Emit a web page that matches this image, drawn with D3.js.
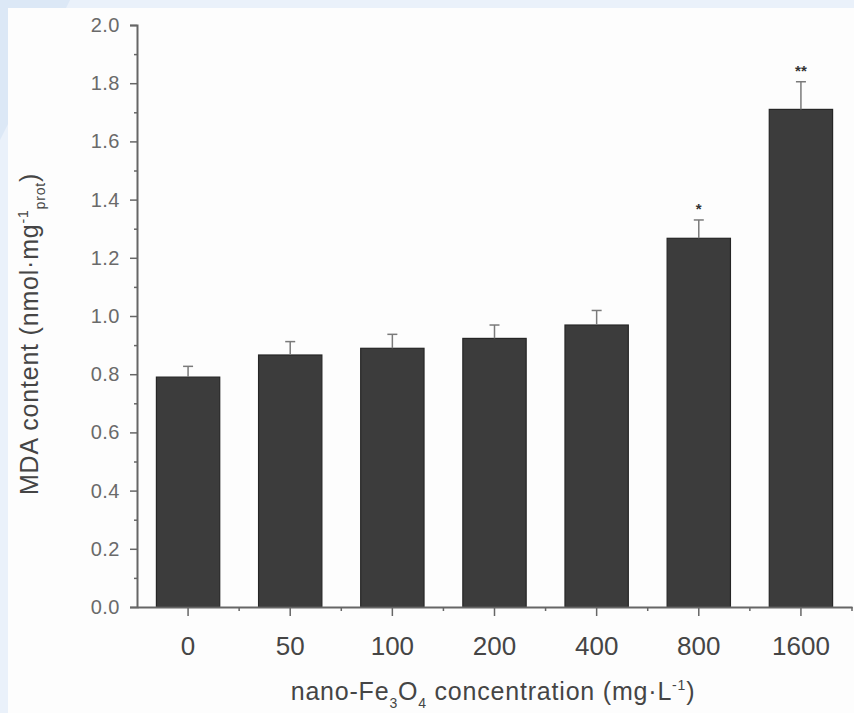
<!DOCTYPE html>
<html>
<head>
<meta charset="utf-8">
<script src="https://cdn.jsdelivr.net/npm/d3@7"></script>
<style>
  body { margin: 0; background: #eaf1fa; }
  svg { display: block; font-family: "Liberation Sans", Arial, sans-serif; }
</style>
</head>
<body>
<div id="chart"></div>
<script>
// data
const categories = ["0", "50", "100", "200", "400", "800", "1600"];
const mdaValues = [0.79, 0.866, 0.889, 0.923, 0.969, 1.267, 1.71];
const mdaErrors = [0.037, 0.046, 0.048, 0.046, 0.05, 0.063, 0.095];
const sigMarks = ["", "", "", "", "", "*", "**"];
const yTicks = [0, 0.2, 0.4, 0.6, 0.8, 1.0, 1.2, 1.4, 1.6, 1.8, 2.0];
const yMinorTicks = [0.1, 0.3, 0.5, 0.7, 0.9, 1.1, 1.3, 1.5, 1.7, 1.9];

const data = categories.map((c, i) => ({cat: c, v: mdaValues[i], e: mdaErrors[i], mark: sigMarks[i]}));

const W = 854, H = 713;
const margin = {top: 25, right: 2, bottom: 106, left: 137};

const svg = d3.select("#chart").append("svg")
    .attr("width", W)
    .attr("height", H);

// page background (light blue edge, white paper)
svg.append("rect").attr("width", W).attr("height", H).attr("fill", "#eaf1fa");
svg.append("path")
    .attr("d", "M0,0 L70,0 L0,140 Z")
    .attr("fill", "#dce8f6");
svg.append("rect").attr("x", 8).attr("y", 8).attr("width", W - 8).attr("height", H - 8).attr("fill", "#fdfdfd");

const x = d3.scaleBand()
    .domain(categories)
    .range([margin.left, W - margin.right])
    .paddingInner(0.38)
    .paddingOuter(0.19);

const y = d3.scaleLinear()
    .domain([0, 2])
    .range([H - margin.bottom, margin.top]);

const axisColor = "#666";
const textColor = "#454545";

// bars
svg.append("g")
    .selectAll("rect")
    .data(data)
    .join("rect")
    .attr("x", d => x(d.cat))
    .attr("y", d => y(d.v))
    .attr("width", x.bandwidth())
    .attr("height", d => y(0) - y(d.v))
    .attr("fill", "#3c3c3c")
    .attr("stroke", "#262626")
    .attr("stroke-width", 1.2);

// error bars (upper half only)
const err = svg.append("g").attr("stroke", "#7a7a7a").attr("stroke-width", 1.5);
err.selectAll("line.v")
    .data(data)
    .join("line")
    .attr("class", "v")
    .attr("x1", d => x(d.cat) + x.bandwidth() / 2)
    .attr("x2", d => x(d.cat) + x.bandwidth() / 2)
    .attr("y1", d => y(d.v))
    .attr("y2", d => y(d.v + d.e));
err.selectAll("line.c")
    .data(data)
    .join("line")
    .attr("class", "c")
    .attr("x1", d => x(d.cat) + x.bandwidth() / 2 - 5)
    .attr("x2", d => x(d.cat) + x.bandwidth() / 2 + 5)
    .attr("y1", d => y(d.v + d.e))
    .attr("y2", d => y(d.v + d.e));

// significance stars
svg.append("g")
    .selectAll("text")
    .data(data.filter(d => d.mark))
    .join("text")
    .attr("x", d => x(d.cat) + x.bandwidth() / 2)
    .attr("y", d => y(d.v + d.e) - 6)
    .attr("text-anchor", "middle")
    .attr("font-size", "15px")
    .attr("font-weight", "bold")
    .attr("fill", "#333")
    .text(d => d.mark);

// Y axis
const yAxis = svg.append("g")
    .attr("transform", `translate(${margin.left},0)`)
    .call(d3.axisLeft(y).tickValues(yTicks).tickFormat(d3.format(".1f")).tickSize(7).tickPadding(10));
yAxis.select(".domain").attr("stroke", axisColor).attr("stroke-width", 2);
yAxis.selectAll(".tick line").attr("stroke", axisColor).attr("stroke-width", 1.5);
yAxis.selectAll(".tick text").attr("font-size", "20px").attr("letter-spacing", "0.5px").attr("fill", "#6a6a6a");

svg.append("g")
    .attr("transform", `translate(${margin.left},0)`)
    .call(d3.axisLeft(y).tickValues(yMinorTicks).tickFormat("").tickSize(3).tickSizeOuter(0))
    .call(g => g.select(".domain").remove())
    .selectAll(".tick line").attr("stroke", axisColor).attr("stroke-width", 1.5);

// X axis
const xAxis = svg.append("g")
    .attr("transform", `translate(0,${y(0)})`)
    .call(d3.axisBottom(x).tickSize(9).tickSizeOuter(0).tickPadding(21));
xAxis.select(".domain").attr("stroke", axisColor).attr("stroke-width", 2);
xAxis.selectAll(".tick line").attr("stroke", axisColor).attr("stroke-width", 1.5);
xAxis.selectAll(".tick text").attr("font-size", "26px").attr("fill", textColor);

// minor ticks on band boundaries
const boundaries = categories.map(c => x(c) + x.bandwidth() + x.step() * x.paddingInner() / 2);
svg.append("g")
    .selectAll("line")
    .data(boundaries)
    .join("line")
    .attr("x1", d => d).attr("x2", d => d)
    .attr("y1", y(0)).attr("y2", y(0) + 4)
    .attr("stroke", axisColor)
    .attr("stroke-width", 1.5);

// Axis titles
const xTitle = svg.append("text")
    .attr("x", 493)
    .attr("y", 700)
    .attr("text-anchor", "middle")
    .attr("font-size", "25px")
    .attr("letter-spacing", "0.8px")
    .attr("fill", textColor);
xTitle.append("tspan").text("nano-Fe");
xTitle.append("tspan").attr("font-size", "14px").attr("dy", 8).text("3");
xTitle.append("tspan").attr("dy", -8).text("O");
xTitle.append("tspan").attr("font-size", "14px").attr("dy", 8).text("4");
xTitle.append("tspan").attr("dy", -8).text(" concentration (mg·L");
xTitle.append("tspan").attr("font-size", "14px").attr("dy", -10).text("-1");
xTitle.append("tspan").attr("dy", 10).text(")");

const yTitle = svg.append("text")
    .attr("transform", "translate(38,334) rotate(-90)")
    .attr("text-anchor", "middle")
    .attr("font-size", "25px")
    .attr("letter-spacing", "0.8px")
    .attr("fill", textColor);
yTitle.append("tspan").text("MDA content (nmol·mg");
yTitle.append("tspan").attr("font-size", "14px").attr("dy", -10).text("-1");
yTitle.append("tspan").attr("font-size", "14px").attr("dy", 17).text("prot");
yTitle.append("tspan").attr("dy", -7).text(")");
</script>
</body>
</html>
